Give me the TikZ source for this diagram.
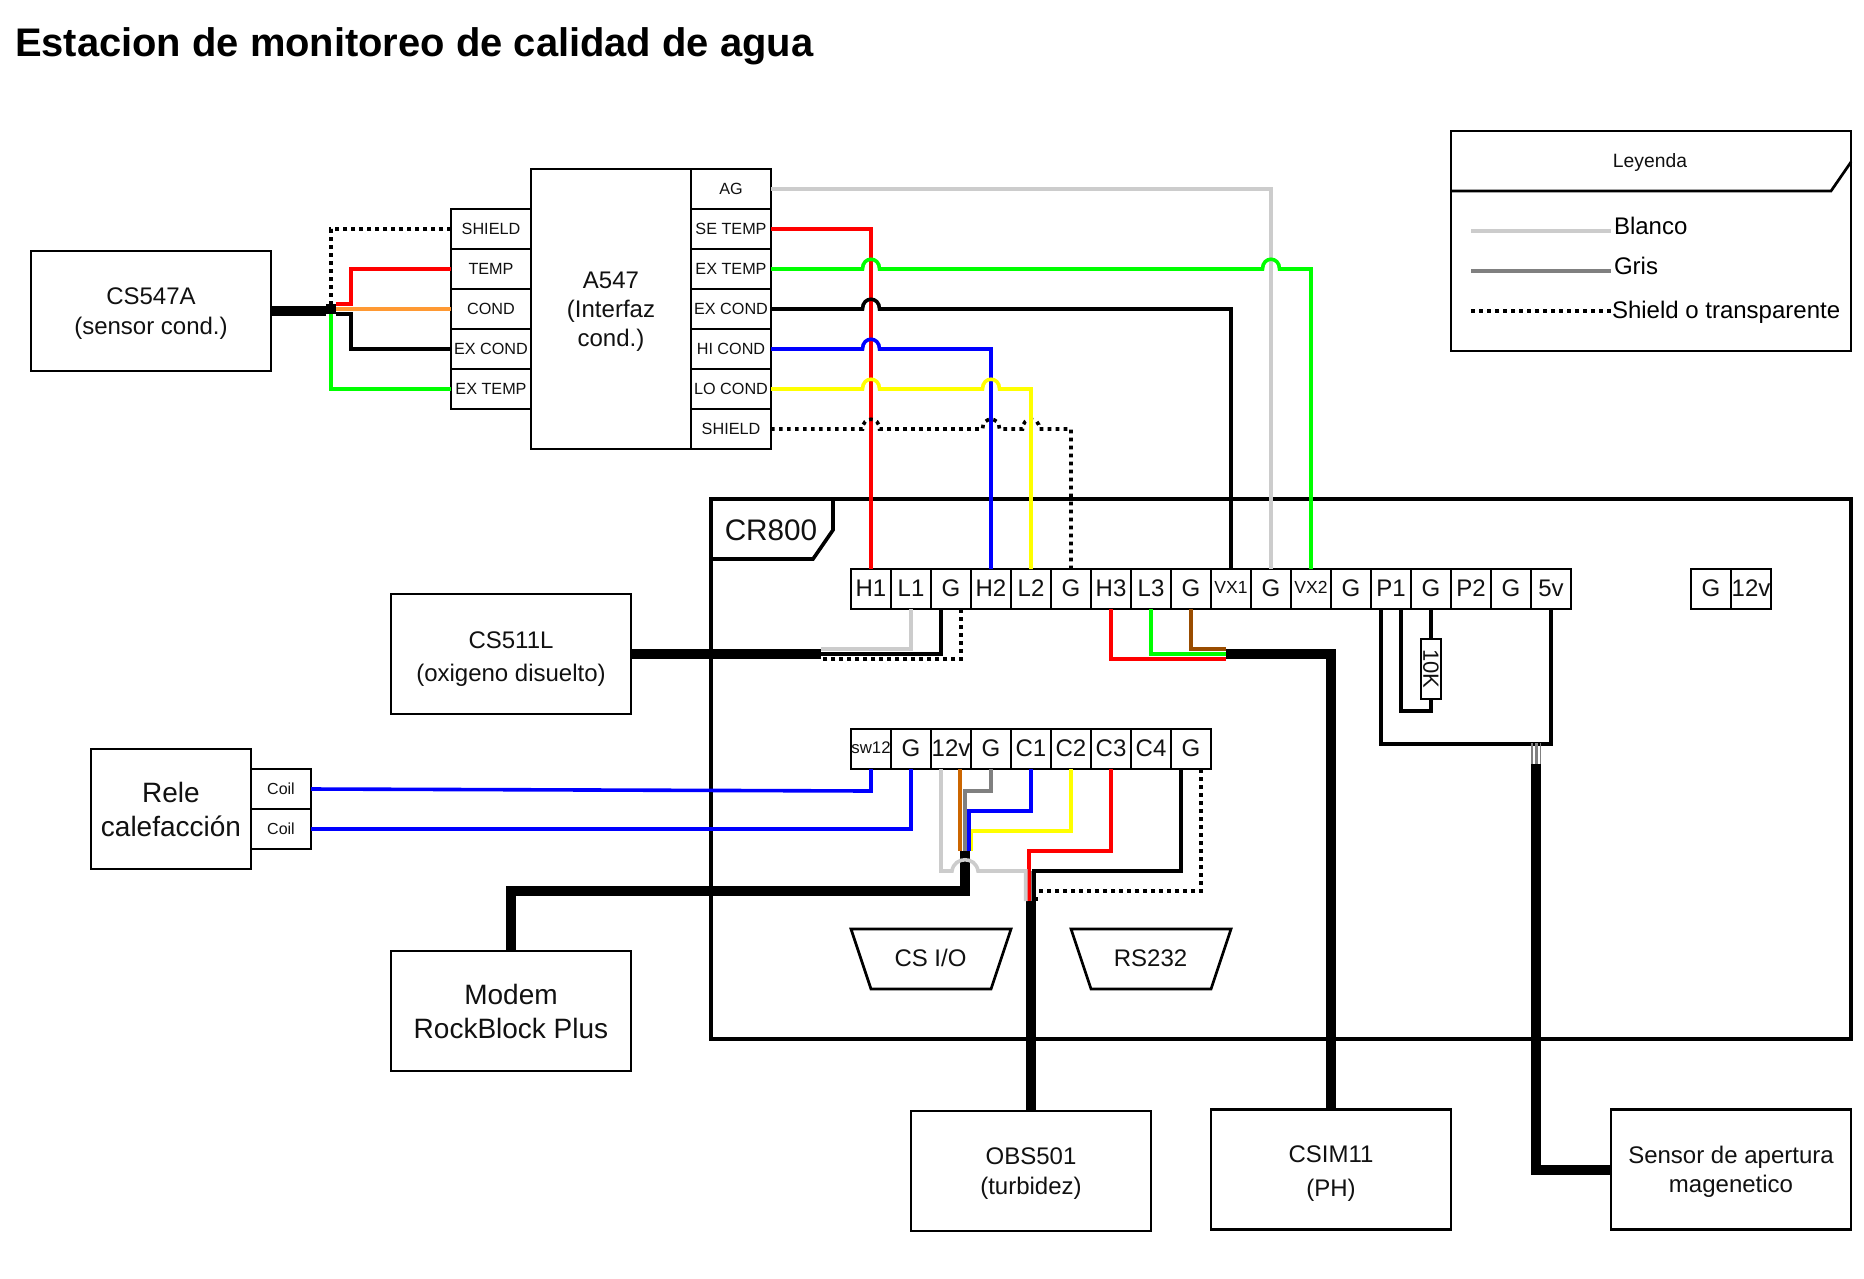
\documentclass[tikz,border=0pt]{standalone}
\usepackage{fontspec}
\setmainfont{Liberation Sans}
\definecolor{wgray}{HTML}{CCCCCC}
\definecolor{wdark}{HTML}{808080}
\definecolor{wred}{HTML}{FF0000}
\definecolor{wgreen}{HTML}{00FF00}
\definecolor{wblue}{HTML}{0000FF}
\definecolor{wyellow}{HTML}{FFFF00}
\definecolor{worange}{HTML}{FF9933}
\definecolor{wbrown}{HTML}{994C00}
\definecolor{wbrownb}{HTML}{CC6600}
\definecolor{txt}{HTML}{111111}
\newcommand{\fs}[2]{\fontsize{#1}{#2}\selectfont}
\newcommand{\dn}{\rule{0pt}{22pt}}
% hop of a horizontal wire over the vertical wire of terminal #1, on the level of #2
\newcommand{\hopover}[2]{-- ([xshift=-8.5pt]#1.north |- #2) .. controls +(0,-13) and +(0,-13) .. +(17,0)}
\tikzset{
  box/.style={draw=black,line width=2.7pt,fill=white,inner sep=0pt,outer sep=0pt,align=center,text=txt,anchor=north west},
  big/.style={box,font=\fs{24}{29.5}},
  bigger/.style={box,font=\fs{28}{34}},
  term/.style={box,minimum width=40pt,minimum height=40pt,font=\fs{24}{28},text depth=2.4pt},
  aterm/.style={box,minimum width=80pt,minimum height=40pt,font=\fs{16.2}{20}},
  coil/.style={box,minimum width=60pt,minimum height=40pt,font=\fs{16}{20}},
  wire/.style={line width=3.6pt,line join=miter},
  cable/.style={line width=10pt,line join=miter,draw=black},
  shieldw/.style={line width=3.6pt,draw=black,dash pattern=on 3.6pt off 4.4pt},
  frame/.style={draw=black,line width=3.6pt,fill=white,line join=miter},
  thinframe/.style={draw=black,line width=2.7pt,fill=white},
  plain/.style={inner sep=0pt,outer sep=0pt,text=txt},
}
\begin{document}
\begin{tikzpicture}[x=1pt,y=-1pt]
\useasboundingbox (0,0) rectangle (1864,1278);
\node[plain,anchor=west,text=black,font=\fs{39.9}{48}\bfseries] (title) at (15,46) {Estacion de monitoreo de calidad de agua};

% CR800 frame
\draw[frame] (711,499) rectangle (1851,1039);
\draw[frame] (711,499) -- (833,499) -- (833,530) -- (813,559) -- (711,559) -- cycle;
\node[plain,font=\fs{29.7}{34}] (crl) at (771,530) {CR800};

% Legend
\draw[thinframe] (1451,131) rectangle (1851,351);
\draw[draw=black,line width=2.7pt] (1451,191) -- (1831,191) -- (1851,162);
\node[plain,font=\fs{19.3}{23}] (ley) at (1650,162.7) {Leyenda};
\coordinate (lg1) at (1471,231); \coordinate (lg1e) at (1611,231);
\coordinate (lg2) at (1471,271); \coordinate (lg2e) at (1611,271);
\coordinate (lg3) at (1471,311); \coordinate (lg3e) at (1611,311);
\draw[wire,wgray] (lg1) -- (lg1e);
\draw[wire,wdark] (lg2) -- (lg2e);
\draw[shieldw] (lg3) -- (lg3e);
\node[plain,anchor=west,text=black,font=\fs{24}{28}] (l1) at (1614,225.5) {Blanco};
\node[plain,anchor=west,text=black,font=\fs{24}{28}] (l2) at (1614,265.5) {Gris};
\node[plain,anchor=west,text=black,font=\fs{24}{28}] (l3) at (1612,312.5) {Shield o transparente};

% Blocks
\node[big,minimum width=240pt,minimum height=120pt] (CSA) at (31,251) {\dn CS547A\\(sensor cond.)};
\node[box,font=\fs{24}{29},minimum width=160pt,minimum height=280pt] (A547) at (531,169) {\dn A547\\(Interfaz\\cond.)};
\node[box,font=\fs{24}{33.5},minimum width=240pt,minimum height=120pt] (CSL) at (391,594) {\rule{0pt}{27pt}CS511L\\(oxigeno disuelto)};
\node[bigger,minimum width=160pt,minimum height=120pt] (RELE) at (91,749) {Rele\\calefacción};
\node[bigger,minimum width=240pt,minimum height=120pt] (MODEM) at (391,951) {Modem\\RockBlock Plus};
\node[big,minimum width=240pt,minimum height=120pt] (OBS) at (911,1111) {\dn OBS501\\(turbidez)};
\node[box,font=\fs{24}{33.5},minimum width=240pt,minimum height=120pt] (CSIM) at (1211,1109.5) {\rule{0pt}{25pt}CSIM11\\(PH)};
\node[big,minimum width=240pt,minimum height=120pt] (SENS) at (1611,1109.5) {\dn Sensor de apertura\\magenetico};
\node[coil] (Coil1) at (251,769) {Coil};
\node[coil] (Coil2) at (251,809) {Coil};

% A547 terminals
\foreach \n/\t [count=\i from 0] in {LSH/SHIELD,LTEMP/TEMP,LCOND/COND,LEXC/EX COND,LEXT/EX TEMP}
  \node[aterm] (\n) at (451,209+40*\i) {\t};
\foreach \n/\t [count=\i from 0] in {RAG/AG,RSE/SE TEMP,REXT/EX TEMP,REXC/EX COND,RHI/HI COND,RLO/LO COND,RSH/SHIELD}
  \node[aterm] (\n) at (691,169+40*\i) {\t};

% CR800 terminals
\foreach \n/\t [count=\i from 0] in {H1/H1,L1/L1,Ga/G,H2/H2,L2/L2,Gb/G,H3/H3,L3/L3,Gc/G,VXa/{\fs{17.5}{20}VX1},Gd/G,VXb/{\fs{17.5}{20}VX2},Ge/G,P1/P1,Gf/G,P2/P2,Gg/G,Va/5v}
  \node[term] (\n) at (851+40*\i,569) {\t};
\foreach \n/\t [count=\i from 0] in {SW/{\fs{16.8}{20}sw12},Gh/G,Ta/12v,Gi/G,Ca/C1,Cb/C2,Cc/C3,Cd/C4,Gj/G}
  \node[term] (\n) at (851+40*\i,729) {\t};
\node[term] (Gk) at (1691,569) {G};
\node[term] (Tb) at (1731,569) {12v};

% Trapezoids
\draw[thinframe] (851,929) -- (1011,929) -- (991,989) -- (871,989) -- cycle;
\node[plain,font=\fs{24}{28}] (csio) at (930.5,957.8) {CS I/O};
\draw[thinframe] (1071,929) -- (1231,929) -- (1211,989) -- (1091,989) -- cycle;
\node[plain,font=\fs{24}{28}] (rs) at (1150.5,957.8) {RS232};

% Resistor
\node[box,anchor=center,rotate=-90,minimum width=60pt,minimum height=20pt,font=\fs{22}{26}] (RES) at (1431,669) {10K};

% Junction points
\coordinate (jTh) at (326,311);
\coordinate (jBa) at (326,309);
\coordinate (jBb) at (336,309);
\coordinate (jRed) at (336,304);
\coordinate (jBlk) at (336,314);
\coordinate (jGrn) at (331,311);
\coordinate (jDot) at (331,305);
\coordinate (ja) at (821,649);
\coordinate (jb) at (821,654);
\coordinate (jc) at (821,659);
\coordinate (jcab) at (821,654);
\coordinate (jd) at (1226,649);
\coordinate (je) at (1226,654);
\coordinate (jf) at (1226,659);
\coordinate (jm) at (965,851);
\coordinate (jy) at (971,851);
\coordinate (jl) at (969,851);
\coordinate (jk) at (965,851);
\coordinate (jh) at (960,851);
\coordinate (jhop) at (952,871);
\coordinate (jo) at (1031,901);
\coordinate (jgd) at (1025.7,901);
\coordinate (jrd) at (1029,901);
\coordinate (jbd) at (1034,901);
\coordinate (jbg) at (1031.3,901);
\coordinate (jbgt) at (1031.3,871);
\coordinate (jsd) at (1034,897);
\coordinate (jsa) at (1032,899);
\coordinate (jsb) at (1038,899);
\coordinate (jp) at (1536,764);
\coordinate (jpa) at (1532,743);
\coordinate (jpb) at (1536.5,743);
\coordinate (jpc) at (1540.7,743);
\coordinate (jpaa) at (1532,764);
\coordinate (jpbb) at (1536.5,764);
\coordinate (jpcc) at (1540.7,764);

% Thick cables
\draw[cable] (CSA.east |- jTh) -- (jTh);
\draw[cable] (CSL.east |- jcab) -- (jcab);
\draw[cable] (je) -| (CSIM.north);
\draw[cable] (jm) -- ++(0,40) -| (MODEM.north);
\draw[cable] (jo) -- (OBS.north);
\draw[cable] (jp) |- (SENS.west);

% Left wires
\draw[wire,wred] (LTEMP.west) -- ++(-100,0) |- (jRed);
\draw[wire,black] (LEXC.west) -- ++(-100,0) |- (jBlk);
\draw[wire,worange] (LCOND.west) -- (jBb);
\draw[wire,wgreen] (LEXT.west) -| (jGrn);
\draw[shieldw] (LSH.west) -| (jDot);
\draw[cable] (jBa) -- (jBb);

% Upper wires, verticals under the hops
\draw[wire,wgray] (RAG.east) -| (Gd.north);
\draw[wire,wred] (RSE.east) -| (H1.north);
\draw[wire,black] (REXC.east) \hopover{H1}{REXC.east} -| (VXa.north);
\draw[wire,wblue] (RHI.east) \hopover{H1}{RHI.east} -| (H2.north);
\draw[wire,wgreen] (REXT.east) \hopover{H1}{REXT.east} \hopover{Gd}{REXT.east} -| (VXb.north);
\draw[shieldw] (RSH.east) \hopover{H1}{RSH.east} \hopover{H2}{RSH.east} \hopover{L2}{RSH.east} -| (Gb.north);
\draw[wire,wyellow] (RLO.east) \hopover{H1}{RLO.east} \hopover{H2}{RLO.east} -| (L2.north);

% Under row 1
\draw[wire,wgray] (L1.south) |- (ja);
\draw[wire,black] ([xshift=-10pt]Ga.south) |- (jb);
\draw[shieldw] ([xshift=10pt]Ga.south) |- (jc);
\draw[wire,wred] (H3.south) |- (jf);
\draw[wire,wgreen] (L3.south) |- (je);
\draw[wire,wbrown] (Gc.south) |- (jd);
\draw[wire,black] ([xshift=-10pt]P1.south) -- ++(0,135) -| (Va.south);
\draw[wire,black] (RES.east) -- ++(0,12) -| ([xshift=10pt]P1.south);
\draw[wire,black] (Gf.south) -- (RES.west);
\draw[line width=1.4pt,wdark] (jpa) -- (jpaa);
\draw[line width=2.6pt,wdark] (jpb) -- (jpbb);
\draw[line width=1.2pt,wdark] (jpc) -- (jpcc);

% Under row 2
\draw[wire,wblue] (SW.south) -- ++(0,22) -- (Coil1.east);
\draw[wire,wblue] (Coil2.east) -| (Gh.south);
\draw[wire,wyellow] (Cb.south) -- ++(0,62) -| (jy);
\draw[wire,wblue] (Ca.south) -- ++(0,42) -| (jl);
\draw[wire,wdark] (Gi.south) -- ++(0,22) -| (jk);
\draw[wire,wbrownb] ([xshift=9pt]Ta.south) -- (jh);
\draw[wire,wred] (Cc.south) -- ++(0,82) -| (jrd);
\draw[shieldw] ([xshift=10pt]Gj.south) -- ++(0,122) -| (jsd);
\draw[line width=1.4pt,wdark] (jbgt) -- (jbg);
\draw[wire,black] ([xshift=-10pt]Gj.south) -- ++(0,102) -| (jbd);
\draw[wire,black] (jsa) -- (jsb);
\draw[wire,wgray] ([xshift=-10pt]Ta.south) -- ++(0,102) -- (jhop) .. controls +(2,-15) and +(-2,-15) .. +(26,0) -| (jgd);
\end{tikzpicture}
\end{document}
